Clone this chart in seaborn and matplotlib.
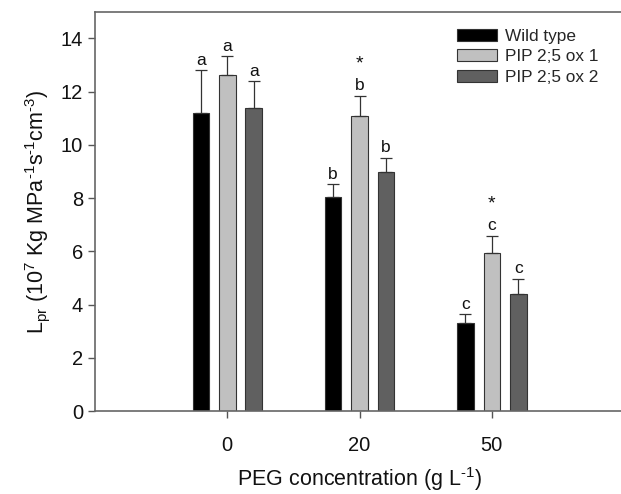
import numpy as np
import pandas as pd
import matplotlib
matplotlib.use("Agg")
import matplotlib.pyplot as plt
import seaborn as sns
from matplotlib.patches import Patch

# values
peg_levels = ["0", "20", "50"]
lines = ["Wild type", "PIP 2;5 ox 1", "PIP 2;5 ox 2"]
wild_type = [11.2, 8.05, 3.3]
ox1 = [12.63, 11.08, 5.93]
ox2 = [11.39, 9.0, 4.39]
wild_type_err = [1.6, 0.47, 0.33]
ox1_err = [0.7, 0.76, 0.65]
ox2_err = [1.0, 0.51, 0.57]
letters = ["a", "b", "c"]
stars = ["", "*", "*"]  # only for ox 1

colors = ["#000000", "#c0c0c0", "#606060"]

rows = []
for line, vals, errs in zip(lines, [wild_type, ox1, ox2], [wild_type_err, ox1_err, ox2_err]):
    for peg, v, e in zip(peg_levels, vals, errs):
        rows.append({"PEG": peg, "line": line, "Lpr": v, "err": e})
df = pd.DataFrame(rows)

sns.set_theme(style="ticks")
plt.rcParams['font.family'] = ['Liberation Sans', 'DejaVu Sans']
plt.rcParams['mathtext.fontset'] = 'custom'
plt.rcParams['mathtext.rm'] = 'Liberation Sans'
plt.rcParams['mathtext.it'] = 'Liberation Sans'

fig = plt.figure(figsize=(6.21, 4.94), dpi=100)
ax = fig.add_axes([0.153, 0.168, 0.852, 0.808])

sns.barplot(data=df, x="PEG", y="Lpr", hue="line", order=peg_levels, hue_order=lines,
            palette=colors, width=0.6, gap=0.375, errorbar=None, ax=ax,
            edgecolor="#333333", linewidth=0.8, legend=False)

# error bars (upper only) + letters
bars = [p for p in ax.patches if p.get_height() > 0]
for i, line in enumerate(lines):
    sub = df[df["line"] == line]
    for j, peg in enumerate(peg_levels):
        p = bars[i * len(peg_levels) + j]
        xc = p.get_x() + p.get_width() / 2
        h = p.get_height()
        e = sub["err"].iloc[j]
        ax.errorbar(xc, h, yerr=[[0], [e]], color="#333333", lw=0.9,
                    capsize=4, capthick=0.9, zorder=3)
        ax.annotate(letters[j], (xc, h + e), xytext=(0, 2), textcoords="offset points",
                    ha="center", va="bottom", fontsize=12.5, color="#111111")
        if i == 1 and stars[j]:
            ax.annotate(stars[j], (xc, h + e), xytext=(0, 17), textcoords="offset points",
                        ha="center", va="bottom", fontsize=14, color="#111111")

ax.set_xlim(-1, 3)
ax.set_ylim(0, 15)
ax.set_yticks(range(0, 15, 2))
ax.tick_params(axis="both", direction="out", length=5, width=1, color="#555555",
               labelsize=14.5, labelcolor="#111111")
ax.tick_params(axis="x", pad=13)
for s in ["left", "bottom", "top", "right"]:
    ax.spines[s].set_color("#666666")
    ax.spines[s].set_linewidth(1.2)

ax.set_xlabel(r"PEG concentration (g L$^{\text{-}1}$)", fontsize=15.5, color="#111111", labelpad=7)
ax.set_ylabel(r"L$_{\rm pr}$ (10$^{7}$ Kg MPa$^{\text{-}1}$s$^{\text{-}1}$cm$^{\text{-}3}$)", fontsize=15.5,
              color="#111111", labelpad=6)

handles = [Patch(facecolor=c, edgecolor="#333333", linewidth=0.8) for c in colors]
ax.legend(handles, lines, loc="upper left", bbox_to_anchor=(0.684, 0.958), frameon=False,
          fontsize=12.4, handlelength=2.3, handleheight=0.7, handletextpad=0.5,
          labelspacing=0.32, borderaxespad=0, borderpad=0)

fig.savefig("out.png", dpi=100)
